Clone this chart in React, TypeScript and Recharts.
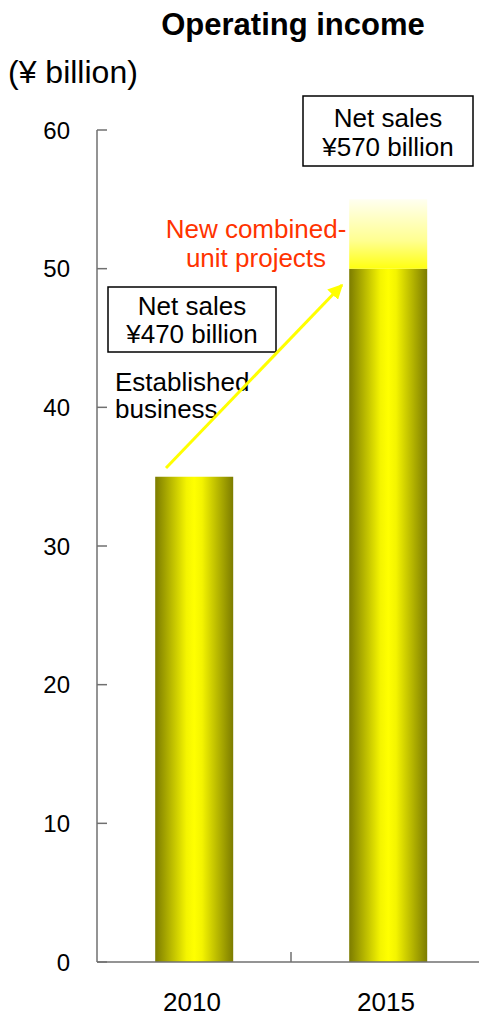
import React from 'react';
import { BarChart, Bar, XAxis, YAxis } from 'recharts';

const years = ['2010', '2015'];
const established = [35, 50];
const newProjects = [0, 5];
const yTicks = [0, 10, 20, 30, 40, 50, 60];

const data = years.map((year, i) => ({
  year,
  established: established[i],
  newProjects: newProjects[i],
}));

const FONT = '"Liberation Sans", Arial, sans-serif';
const AXIS = '#707070';
const X_MARGIN = 40;

// the picture runs to the very edge, so drop the default body margin
if (typeof document !== 'undefined') {
  document.body.style.margin = '0';
  document.body.style.overflow = 'hidden';
}

const YTick = ({ x, y, payload }: any) => (
  <g>
    <line x1={x + 27} x2={x + 37} y1={y} y2={y} stroke={AXIS} strokeWidth={1.5} />
    <text x={x} y={y} dy="0.36em" textAnchor="end" fontSize={24} fontFamily={FONT} fill="#000">
      {payload.value}
    </text>
  </g>
);

const XTick = ({ x, y, payload }: any) => {
  const axisY = y - X_MARGIN;
  const sep = x + (payload.offset ?? 0);
  return (
    <g>
      <line x1={sep} x2={sep} y1={axisY} y2={axisY - 10} stroke={AXIS} strokeWidth={1.5} />
      <text x={x - 2} y={axisY + 49} textAnchor="middle" fontSize={26} fontFamily={FONT} fill="#000">
        {payload.value}
      </text>
    </g>
  );
};

// titles, boxes and the arrow sit on top of the chart, in page pixels
const Notes = () => (
  <svg
    width={479}
    height={1018}
    style={{ position: 'absolute', left: 0, top: 0, pointerEvents: 'none' }}
    fontFamily={FONT}
  >
    <defs>
      <marker id="head" viewBox="0 0 10 10" refX="9" refY="5" markerWidth="5" markerHeight="5" orient="auto">
        <path d="M0,0 L10,5 L0,10 z" fill="#ffff00" />
      </marker>
    </defs>
    <text x={293} y={35} textAnchor="middle" fontSize={31} fontWeight="bold" fill="#000">Operating income</text>
    <text x={8} y={83} fontSize={32} fill="#000">(¥ billion)</text>

    <rect x={303} y={96} width={170} height={70} fill="#fff" stroke="#000" strokeWidth={1.5} />
    <text x={388} y={127} textAnchor="middle" fontSize={26} fill="#000">Net sales</text>
    <text x={388} y={156} textAnchor="middle" fontSize={26} fill="#000">¥570 billion</text>

    <rect x={108} y={287} width={168} height={65} fill="#fff" stroke="#000" strokeWidth={1.5} />
    <text x={192} y={315} textAnchor="middle" fontSize={26} fill="#000">Net sales</text>
    <text x={192} y={343} textAnchor="middle" fontSize={26} fill="#000">¥470 billion</text>

    <text x={256} y={238} textAnchor="middle" fontSize={26} fill="#ff3300">New combined-</text>
    <text x={256} y={267} textAnchor="middle" fontSize={26} fill="#ff3300">unit projects</text>

    <text x={115} y={391} fontSize={26} fill="#000">Established</text>
    <text x={115} y={418} fontSize={26} fill="#000">business</text>

    <line x1={166} y1={468} x2={342} y2={285} stroke="#ffff00" strokeWidth={3} markerEnd="url(#head)" />
  </svg>
);

export default function App() {
  return (
    <div style={{ position: 'relative', width: 479, height: 1018, overflow: 'hidden' }}>
      <BarChart
        width={485}
        height={1018}
        data={data}
        margin={{ top: 130, right: 0, bottom: 0, left: 0 }}
        barCategoryGap="30%"
      >
        <defs>
          <linearGradient id="barSide" x1="0" y1="0" x2="1" y2="0">
            <stop offset="0%" stopColor="#7c7c00" />
            <stop offset="40%" stopColor="#f4f400" />
            <stop offset="50%" stopColor="#ffff00" />
            <stop offset="60%" stopColor="#f4f400" />
            <stop offset="100%" stopColor="#7c7c00" />
          </linearGradient>
          <linearGradient id="barTop" x1="0" y1="0" x2="0" y2="1">
            <stop offset="0%" stopColor="#fffff0" />
            <stop offset="60%" stopColor="#ffff90" />
            <stop offset="100%" stopColor="#ffff10" />
          </linearGradient>
        </defs>
        <XAxis
          dataKey="year"
          height={56}
          axisLine={{ stroke: AXIS, strokeWidth: 1.5 }}
          tickLine={false}
          tickSize={0}
          tickMargin={X_MARGIN}
          tick={<XTick />}
          interval={0}
        />
        <YAxis
          width={97}
          domain={[0, 60]}
          ticks={yTicks}
          axisLine={{ stroke: AXIS, strokeWidth: 1.5 }}
          tickLine={false}
          tickSize={0}
          tickMargin={27}
          tick={<YTick />}
          interval={0}
        />
        <Bar dataKey="established" stackId="a" fill="url(#barSide)" isAnimationActive={false} />
        <Bar dataKey="newProjects" stackId="a" fill="url(#barTop)" isAnimationActive={false} />
      </BarChart>
      <Notes />
    </div>
  );
}
